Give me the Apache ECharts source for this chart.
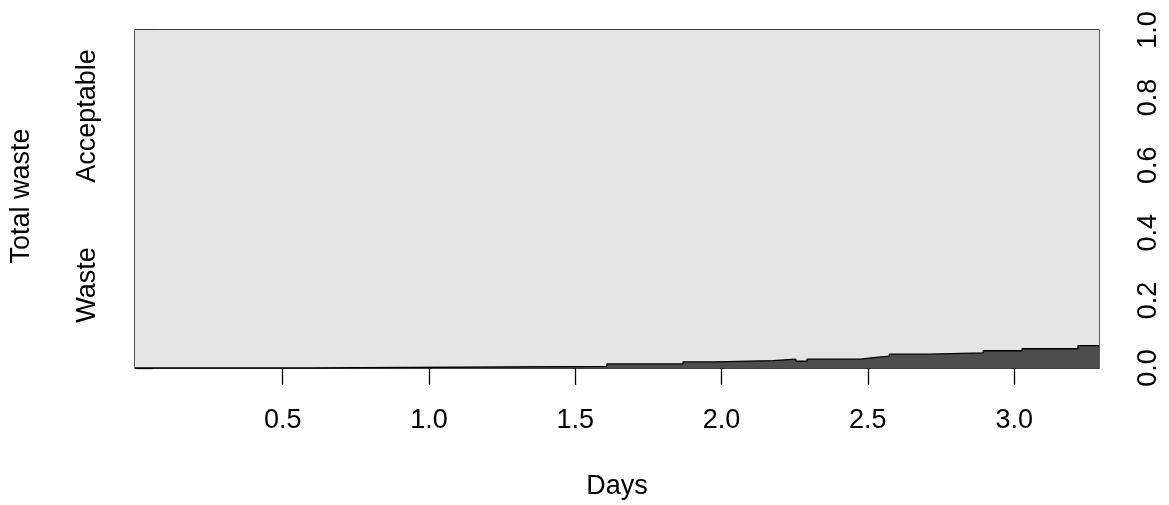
<!DOCTYPE html>
<html>
<head>
<meta charset="utf-8">
<script src="https://cdn.jsdelivr.net/npm/echarts@6/dist/echarts.min.js"></script>
<style>
  html, body { margin: 0; padding: 0; background: #ffffff; }
  #chart { width: 1169px; height: 505px; }
</style>
</head>
<body>
<div id="chart"></div>
<script>
// Day at which each step of the waste share begins
const stepStarts = [-0.005, 0.59, 1.608, 1.868, 1.977, 2.176, 2.254, 2.292, 2.476, 2.511, 2.573, 2.709, 2.894, 3.027, 3.218];
// Share of total that is waste within each step
const wasteShare = [0, 0.005, 0.012, 0.018, 0.022, 0.026, 0.020, 0.026, 0.030, 0.035, 0.041, 0.045, 0.051, 0.057, 0.066];
const dayEnd = 3.29;
const dayTicks = [0.5, 1.0, 1.5, 2.0, 2.5, 3.0];
const shareTicks = [0.0, 0.2, 0.4, 0.6, 0.8, 1.0];
const categories = ['Waste', 'Acceptable'];

// Expand the steps into corner points: each share holds until the next step start
const wastePts = [];
stepStarts.forEach((d, i) => {
  const next = i + 1 < stepStarts.length ? stepStarts[i + 1] : dayEnd;
  wastePts.push([d, wasteShare[i]]);
  wastePts.push([next, wasteShare[i]]);
});
// Acceptable share fills everything above the waste share, up to 1
const totalPts = [[stepStarts[0], 1], [dayEnd, 1]];

const font = '"Liberation Sans", Arial, sans-serif';
const fs = 27;
const chart = echarts.init(document.getElementById('chart'), null, { renderer: 'canvas' });

chart.setOption({
  animation: false,
  backgroundColor: '#ffffff',
  grid: {
    left: 135, right: 70, top: 30, bottom: 136,
    show: true, borderColor: '#000000', borderWidth: 1.3, backgroundColor: 'transparent'
  },
  xAxis: {
    type: 'value',
    min: stepStarts[0], max: dayEnd,
    name: 'Days', nameLocation: 'middle', nameGap: 105,
    nameTextStyle: { fontFamily: font, fontSize: fs, color: '#000' },
    axisLine: { show: false },
    splitLine: { show: false },
    axisTick: { show: true, length: 17, lineStyle: { color: '#000', width: 1.3 }, customValues: dayTicks },
    axisLabel: {
      customValues: dayTicks, margin: 39,
      fontFamily: font, fontSize: fs, color: '#000',
      formatter: v => v.toFixed(1)
    }
  },
  yAxis: {
    type: 'value', position: 'right',
    min: 0, max: 1,
    axisLine: { show: false },
    splitLine: { show: false },
    axisTick: { show: true, length: 17, lineStyle: { color: '#000', width: 1.3 }, customValues: shareTicks },
    axisLabel: {
      customValues: shareTicks, margin: 36, rotate: 90,
      fontFamily: font, fontSize: fs, color: '#000',
      formatter: v => v.toFixed(1)
    }
  },
  graphic: [
    { type: 'text', x: 22, y: 196, rotation: Math.PI / 2,
      style: { text: 'Total waste', font: fs + 'px ' + font, fill: '#000', textAlign: 'center', textVerticalAlign: 'middle' } },
    { type: 'text', x: 88, y: 285, rotation: Math.PI / 2,
      style: { text: categories[0], font: fs + 'px ' + font, fill: '#000', textAlign: 'center', textVerticalAlign: 'middle' } },
    { type: 'text', x: 88, y: 116, rotation: Math.PI / 2,
      style: { text: categories[1], font: fs + 'px ' + font, fill: '#000', textAlign: 'center', textVerticalAlign: 'middle' } }
  ],
  series: [
    {
      name: categories[1], type: 'line',
      data: totalPts, symbol: 'none',
      lineStyle: { width: 0 },
      areaStyle: { color: '#e5e5e5', opacity: 1 },
      z: 1
    },
    {
      name: categories[0], type: 'line',
      data: wastePts, symbol: 'none',
      lineStyle: { color: '#000000', width: 1.3 },
      areaStyle: { color: '#4d4d4d', opacity: 1 },
      z: 3
    }
  ]
});
</script>
</body>
</html>
